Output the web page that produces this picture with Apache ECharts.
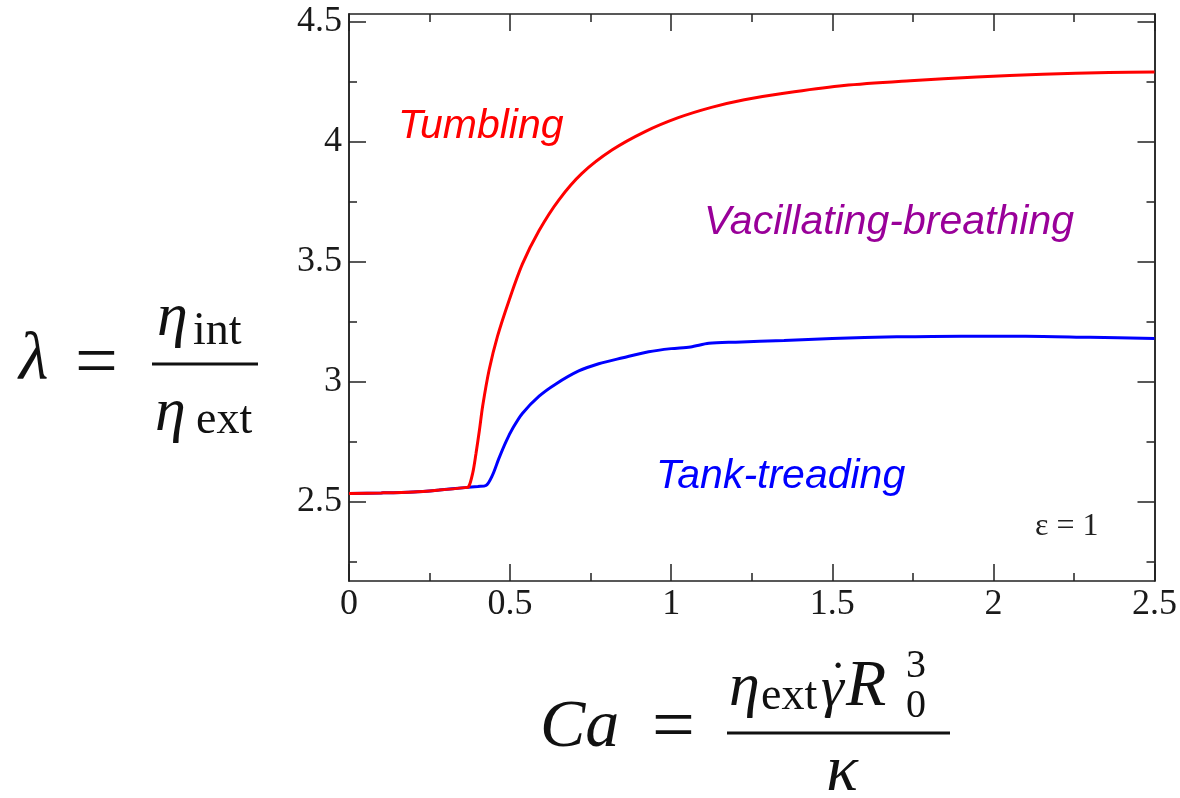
<!DOCTYPE html>
<html>
<head>
<meta charset="utf-8">
<script src="https://cdn.jsdelivr.net/npm/echarts@6/dist/echarts.min.js"></script>
<style>
html,body{margin:0;padding:0;background:#fff;}
#chart{width:1180px;height:798px;}
</style>
</head>
<body>
<div id="chart"></div>
<script>
// ---- data ----
var tumblingX = [0, 0.1, 0.2, 0.28, 0.36, 0.371, 0.384, 0.394, 0.405, 0.415, 0.435, 0.461, 0.497, 0.538, 0.59, 0.651, 0.723, 0.816, 0.919, 1.022, 1.125, 1.227, 1.382, 1.536, 1.742, 1.948, 2.153, 2.359, 2.5];
var tumblingY = [2.535, 2.537, 2.541, 2.549, 2.559, 2.562, 2.62, 2.70, 2.80, 2.90, 3.05, 3.19, 3.34, 3.49, 3.63, 3.757, 3.868, 3.965, 4.042, 4.10, 4.143, 4.175, 4.208, 4.234, 4.254, 4.27, 4.281, 4.288, 4.29];
var tankX = [0, 0.1, 0.2, 0.28, 0.36, 0.40, 0.425, 0.445, 0.465, 0.487, 0.51, 0.538, 0.59, 0.641, 0.713, 0.775, 0.85, 0.93, 1.0, 1.06, 1.117, 1.2, 1.35, 1.5, 1.7, 1.9, 2.1, 2.3, 2.5];
var tankY = [2.535, 2.537, 2.541, 2.549, 2.559, 2.564, 2.568, 2.61, 2.68, 2.75, 2.81, 2.868, 2.94, 2.99, 3.045, 3.075, 3.10, 3.125, 3.138, 3.145, 3.16, 3.165, 3.172, 3.18, 3.187, 3.19, 3.19, 3.185, 3.18];
var yMajorTicks = [2.5, 3, 3.5, 4, 4.5];
var yMinorTicks = [2.25, 2.75, 3.25, 3.75, 4.25];
var xMin = 0, xMax = 2.5, xStep = 0.5;
var yMin = 2.17, yMax = 4.532;

function pairs(xs, ys){ return xs.map(function(x,i){ return [x, ys[i]]; }); }

var frameColor = '#222';
var serif = '"Liberation Serif", "Times New Roman", serif';
var sans = '"Liberation Sans", Arial, sans-serif';

function xAx(pos, labels){
  return {
    type:'value', position:pos, min:xMin, max:xMax, interval:xStep,
    axisLine:{show:true, onZero:false, lineStyle:{color:frameColor, width:1.5}},
    axisTick:{show:true, inside:true, length:17, lineStyle:{color:frameColor, width:1.5}},
    minorTick:{show:true, splitNumber:2, length:8, lineStyle:{color:frameColor, width:1.5}},
    axisLabel:{show:labels, margin:6, fontFamily:serif, fontSize:36, color:'#1a1a1a'},
    splitLine:{show:false}, minorSplitLine:{show:false}
  };
}
function yAx(pos, vals, len, labels){
  return {
    type:'value', position:pos, min:yMin, max:yMax,
    axisLine:{show:true, onZero:false, lineStyle:{color:frameColor, width:1.5}},
    axisTick:{show:true, inside:true, length:len, customValues:vals, lineStyle:{color:frameColor, width:1.5}},
    axisLabel:{show:labels, customValues:vals, margin:7, fontFamily:serif, fontSize:36, color:'#1a1a1a'},
    splitLine:{show:false}
  };
}
function T(text, x, baseline, size, opts){
  opts = opts || {};
  return {
    type:'text', x:x, y:baseline - 0.34*size, silent:true,
    style:{
      text:text, x:0, y:0,
      font:(opts.italic?'italic ':'') + size + 'px ' + (opts.family || serif),
      fill:opts.color || '#111',
      align:opts.align || 'left', verticalAlign:'middle'
    }
  };
}
function bar(x1, x2, y){
  return {type:'line', silent:true, shape:{x1:x1, y1:y, x2:x2, y2:y}, style:{stroke:'#111', lineWidth:3}};
}

var chart = echarts.init(document.getElementById('chart'), null, {renderer:'canvas'});
chart.setOption({
  animation:false,
  backgroundColor:'#fff',
  grid:{left:349, top:14, right:22, bottom:217, containLabel:false},
  xAxis:[xAx('bottom', true), xAx('top', false)],
  yAxis:[yAx('left', yMajorTicks, 17, true), yAx('left', yMinorTicks, 8, false),
         yAx('right', yMajorTicks, 17, false), yAx('right', yMinorTicks, 8, false)],
  series:[
    {type:'line', name:'Tank-treading boundary', data:pairs(tankX, tankY), xAxisIndex:0, yAxisIndex:0,
     showSymbol:false, smooth:0.3, lineStyle:{color:'#0000ff', width:3}, z:2},
    {type:'line', name:'Tumbling boundary', data:pairs(tumblingX, tumblingY), xAxisIndex:0, yAxisIndex:0,
     showSymbol:false, smooth:0.3, lineStyle:{color:'#ff0000', width:3}, z:3}
  ],
  graphic:[
    T('Tumbling', 398, 141, 41, {italic:true, family:sans, color:'#ff0000'}),
    T('Vacillating-breathing', 704, 237, 41, {italic:true, family:sans, color:'#990099'}),
    T('Tank-treading', 656, 491, 41, {italic:true, family:sans, color:'#0000ff'}),
    T('\u03b5 = 1', 1035, 537, 32, {color:'#222'}),
    // lambda = eta_int / eta_ext
    T('\u03bb', 19, 384, 68, {italic:true}),
    T('=', 75, 392, 76),
    bar(152, 258, 364),
    T('\u03b7', 157, 340, 62, {italic:true}),
    T('int', 193, 348, 46),
    T('\u03b7', 155, 435, 62, {italic:true}),
    T('ext', 196, 437, 46),
    // Ca = eta_ext gammadot R0^3 / kappa
    T('Ca', 540, 751, 68, {italic:true}),
    T('=', 652, 756, 76),
    bar(727, 950, 733),
    T('\u03b7', 729, 710, 62, {italic:true}),
    T('ext', 761, 713, 46),
    T('\u03b3', 821, 710, 58, {italic:true}),
    T('\u02d9', 838, 700, 50, {align:'center'}),
    T('R', 846, 710, 66, {italic:true}),
    T('3', 906, 680, 40),
    T('0', 906, 720, 40),
    T('\u03ba', 842, 795, 66, {italic:true, align:'center'})
  ]
});
</script>
</body>
</html>
